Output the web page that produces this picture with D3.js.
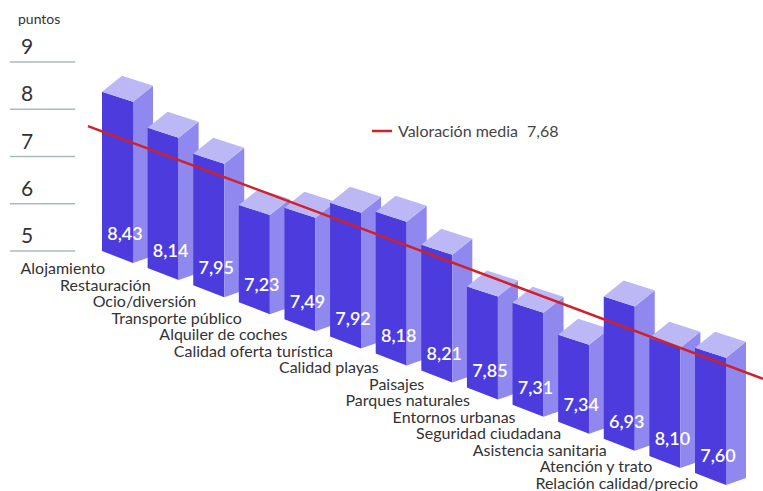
<!DOCTYPE html>
<html>
<head>
<meta charset="utf-8">
<script src="https://cdn.jsdelivr.net/npm/d3@7"></script>
<style>
  body { margin: 0; background: #fff; }
  svg { display: block; font-family: Lato, "Noto Sans", sans-serif; }
</style>
</head>
<body>
<div id="chart"></div>
<script>
// categorias y valores (las etiquetas de cada barra)
const categorias = ["Alojamiento", "Restauración", "Ocio/diversión", "Transporte público",
  "Alquiler de coches", "Calidad oferta turística", "Calidad playas", "Paisajes",
  "Parques naturales", "Entornos urbanas", "Seguridad ciudadana", "Asistencia sanitaria",
  "Atención y trato", "Relación calidad/precio"];
const valores = [8.43, 8.14, 7.95, 7.23, 7.49, 7.92, 8.18, 8.21, 7.85, 7.31, 7.34, 6.93, 8.10, 7.60];
// altura con que se dibuja cada barra, leida sobre la escala de puntos
const alturas = [8.37, 7.97, 7.78, 7.06, 7.36, 7.83, 8.0, 7.66, 7.14, 7.16, 6.84, 8.01, 7.5, 7.65];
const media = 7.68;
const ticks = [5, 6, 7, 8, 9];

const W = 763, H = 491;
const fmt = (v) => d3.format(".2f")(v).replace(".", ",");

const svg = d3.select("#chart")
  .append("svg")
  .attr("width", W)
  .attr("height", H)
  .attr("viewBox", `0 0 ${W} ${H}`);

const y = d3.scaleLinear().domain([5, 9]).range([251, 62]);
const x = d3.scalePoint().domain(categorias).range([102, 695]);
// la base de las barras baja en diagonal
const shift = d3.scaleLinear().domain([102, 695]).range([0, 222]);

// eje de puntos a la izquierda
svg.append("text")
  .attr("x", 18).attr("y", 24)
  .style("font-size", "14px").style("fill", "#333")
  .text("puntos");

const ejes = svg.append("g");
ejes.selectAll("line").data(ticks).enter()
  .append("line")
  .attr("x1", 10).attr("x2", 75)
  .attr("y1", (d) => y(d)).attr("y2", (d) => y(d))
  .style("stroke", "#a9bcbb").style("stroke-width", 1.5);
ejes.selectAll("text").data(ticks).enter()
  .append("text")
  .attr("x", 21).attr("y", (d) => y(d) - 8)
  .style("font-size", "21px").style("fill", "#333")
  .text((d) => d);

// barras en falsa perspectiva
const colFront = "#4c3cdd", colSide = "#8f88ee", colTop = "#bcb8f5";
const fw = 31, dx = 20, dy = 16;

const barras = svg.selectAll("g.barra")
  .data(categorias.map((c, i) => ({ cat: c, valor: valores[i], alto: alturas[i] })))
  .enter()
  .append("g")
  .attr("class", "barra");

const pts = (arr) => arr.map((p) => p.join(",")).join(" ");

barras.each(function (d) {
  const g = d3.select(this);
  const x0 = x(d.cat);
  const s = shift(x0);
  const yb = y(5) + s;
  const yt = y(d.alto) + s;
  g.append("polygon")
    .attr("points", pts([[x0, yt], [x0 + fw, yt + 10], [x0 + fw, yb + 12], [x0, yb]]))
    .style("fill", colFront);
  g.append("polygon")
    .attr("points", pts([[x0 + fw, yt + 10], [x0 + fw + dx, yt + 10 - dy], [x0 + fw + dx, yb + 5], [x0 + fw, yb + 12]]))
    .style("fill", colSide);
  g.append("polygon")
    .attr("points", pts([[x0, yt], [x0 + dx, yt - dy], [x0 + fw + dx, yt + 10 - dy], [x0 + fw, yt + 10]]))
    .style("fill", colTop);
  g.append("text")
    .attr("x", x0 + 23).attr("y", yb - 11)
    .attr("text-anchor", "middle")
    .style("font-size", "18px").style("font-weight", 600)
    .style("fill", "#fff")
    .text(fmt(d.valor));
});

// nombres de categoria en escalera
svg.append("g").selectAll("text").data(categorias).enter()
  .append("text")
  .attr("x", (d) => x(d) + 3)
  .attr("y", (d, i) => 274 + i * 16.5)
  .attr("text-anchor", "end")
  .style("font-size", "16px").style("fill", "#333")
  .text((d) => d);

// linea de la valoracion media
const lx = [88, W];
svg.append("line")
  .attr("x1", lx[0]).attr("x2", lx[1])
  .attr("y1", y(media) + shift(lx[0]) + 7)
  .attr("y2", y(media) + shift(lx[1]) + 7)
  .style("stroke", "#d0202a").style("stroke-width", 2.5);

// leyenda
svg.append("line")
  .attr("x1", 372).attr("x2", 392).attr("y1", 131).attr("y2", 131)
  .style("stroke", "#d0202a").style("stroke-width", 2.5);
svg.append("text")
  .attr("x", 398).attr("y", 137)
  .style("font-size", "16px").style("fill", "#444")
  .text("Valoración media");
svg.append("text")
  .attr("x", 527).attr("y", 137)
  .style("font-size", "16px").style("fill", "#444")
  .text(fmt(media));
</script>
</body>
</html>
